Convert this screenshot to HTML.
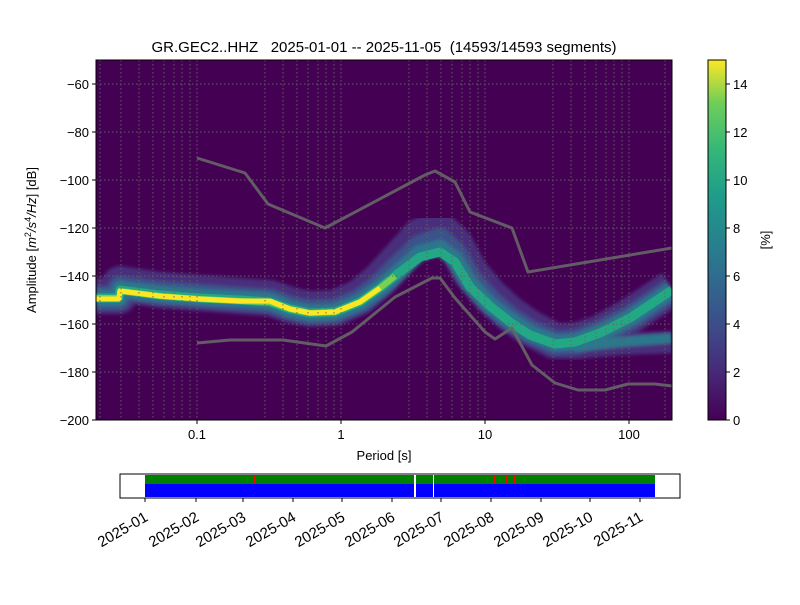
<!DOCTYPE html>
<html><head><meta charset="utf-8"><style>
body{margin:0;background:#fff}
svg text{font-family:"Liberation Sans","DejaVu Sans",sans-serif;fill:#000}
</style></head><body>
<svg width="800" height="600" viewBox="0 0 800 600" xmlns="http://www.w3.org/2000/svg">
<defs>
<clipPath id="pc"><rect x="96" y="60" width="576" height="360"/></clipPath>
<linearGradient id="vir" x1="0" y1="1" x2="0" y2="0">
<stop offset="0" stop-color="#440154"/><stop offset="0.13" stop-color="#482878"/><stop offset="0.25" stop-color="#3e4989"/><stop offset="0.38" stop-color="#31688e"/><stop offset="0.5" stop-color="#26828e"/><stop offset="0.63" stop-color="#1f9e89"/><stop offset="0.75" stop-color="#35b779"/><stop offset="0.88" stop-color="#6ece58"/><stop offset="1" stop-color="#fde725"/>
</linearGradient>
<filter id="bl"><feGaussianBlur stdDeviation="1.5"/></filter>
</defs>
<text x="384" y="52" font-size="15" text-anchor="middle" xml:space="preserve">GR.GEC2..HHZ   2025-01-01 -- 2025-11-05  (14593/14593 segments)</text>
<rect x="96" y="60" width="576" height="360" fill="#440154"/>
<g clip-path="url(#pc)" fill="none" stroke-linejoin="round" stroke-linecap="butt">
<g filter="url(#bl)">
<polyline stroke="#482f7c" stroke-width="36" points="96,296 119,296 120,284 160,290 200,293 240,296 270,298 290,305 310,309 335,308 360,297 380,280 400,258 420,236 440,230 455,244 470,272 490,296 510,314 530,328 555,341 575,341 600,333 630,316 672,288"/>
<polyline stroke="#482f7c" stroke-width="22" points="575,348 620,344 672,342"/>
<polyline stroke="#3b528b" stroke-width="24" points="96,298 119,298 120,288 160,293 200,296 240,299 270,301 290,308 310,312 335,311 360,301 380,286 400,266 420,247 440,240 455,254 470,280 490,302 510,319 530,332 555,343 575,342 600,333 630,318 672,290"/>
<polyline stroke="#2a788e" stroke-width="16" points="96,298 119,298 120,289 160,294 200,297 240,299 270,301 290,309 310,313 335,312 360,302 380,288 400,271 420,253 440,248 455,259 470,284 490,305 510,320 530,333 555,343 575,342 600,333 630,318 672,290"/>
<polyline stroke="#2a788e" stroke-width="10" points="575,347 620,342 672,338"/>
</g>
<polyline stroke="#22a884" stroke-width="9" points="96,298 119,298 120,290 160,295 200,298 240,300 270,302 290,309 310,313 335,312 360,302 380,288 400,272 420,257 440,252 455,262 470,287 490,306 510,322 530,335 555,344 575,342 600,333 630,318 672,290"/>
<polyline stroke="#7ad151" stroke-width="6" points="96,298 119,298 120,291 160,296 200,299 240,301 270,302 290,309 310,313 335,312 360,302 380,288 395,276"/>
<polyline stroke="#fde725" stroke-width="5" points="96,299 119,299 120,291 160,296 200,299 240,301 270,301 290,309 310,313 335,312 360,302 380,288"/>
<polyline stroke="#666" stroke-opacity="0.9" stroke-width="3" points="197,158 245,173 268,204 325,228 425,175 435,171 455,182 470,212 512,228 528,272 672,248"/>
<polyline stroke="#666" stroke-opacity="0.9" stroke-width="3" points="197,343 230,340 283,340 326,346 352,332 395,297 432,278 440,278 455,298 485,332 495,339 512,328 532,365 555,383 578,390 605,390 628,384 655,384 672,386"/>
</g>
<g stroke="#666" stroke-width="1" stroke-dasharray="1.5,2.5" opacity="0.9">
<line x1="96" x2="672" y1="84" y2="84"/><line x1="96" x2="672" y1="132" y2="132"/><line x1="96" x2="672" y1="180" y2="180"/><line x1="96" x2="672" y1="228" y2="228"/><line x1="96" x2="672" y1="276" y2="276"/><line x1="96" x2="672" y1="324" y2="324"/><line x1="96" x2="672" y1="372" y2="372"/>
<g id="dec">
<line x1="121" x2="121" y1="60" y2="420"/><line x1="139" x2="139" y1="60" y2="420"/><line x1="153" x2="153" y1="60" y2="420"/><line x1="164" x2="164" y1="60" y2="420"/><line x1="174" x2="174" y1="60" y2="420"/><line x1="182" x2="182" y1="60" y2="420"/><line x1="190" x2="190" y1="60" y2="420"/><line x1="197" x2="197" y1="60" y2="420"/>
</g>
<use href="#dec" transform="translate(144,0)"/><use href="#dec" transform="translate(288,0)"/><use href="#dec" transform="translate(432,0)"/>
<line x1="100" x2="100" y1="60" y2="420"/><line x1="665" x2="665" y1="60" y2="420"/>
</g>
<rect x="96" y="60" width="576" height="360" fill="none" stroke="#000" stroke-width="1"/>
<g stroke="#000">
<line x1="92" x2="96" y1="84" y2="84"/><line x1="92" x2="96" y1="132" y2="132"/><line x1="92" x2="96" y1="180" y2="180"/><line x1="92" x2="96" y1="228" y2="228"/><line x1="92" x2="96" y1="276" y2="276"/><line x1="92" x2="96" y1="324" y2="324"/><line x1="92" x2="96" y1="372" y2="372"/><line x1="92" x2="96" y1="420" y2="420"/>
<line x1="197" x2="197" y1="420" y2="424"/><line x1="341" x2="341" y1="420" y2="424"/><line x1="485" x2="485" y1="420" y2="424"/><line x1="629" x2="629" y1="420" y2="424"/>
</g>
<g font-size="13" text-anchor="end">
<text x="89" y="89">−60</text><text x="89" y="137">−80</text><text x="89" y="185">−100</text><text x="89" y="233">−120</text><text x="89" y="281">−140</text><text x="89" y="329">−160</text><text x="89" y="377">−180</text><text x="89" y="425">−200</text>
</g>
<g font-size="13" text-anchor="middle">
<text x="197" y="439">0.1</text><text x="341" y="439">1</text><text x="485" y="439">10</text><text x="629" y="439">100</text>
<text x="384" y="460">Period [s]</text>
</g>
<text font-size="13" text-anchor="middle" transform="translate(36,240) rotate(-90)">Amplitude [<tspan font-style="italic">m</tspan><tspan font-size="9" dy="-5">2</tspan><tspan dy="5" font-style="italic">/s</tspan><tspan font-size="9" dy="-5">4</tspan><tspan dy="5" font-style="italic">/Hz</tspan>] [dB]</text>
<rect x="708" y="60" width="18" height="360" fill="url(#vir)" stroke="#000" stroke-width="1"/>
<g stroke="#000"><line x1="726" x2="730" y1="420" y2="420"/><line x1="726" x2="730" y1="372" y2="372"/><line x1="726" x2="730" y1="324" y2="324"/><line x1="726" x2="730" y1="276" y2="276"/><line x1="726" x2="730" y1="228" y2="228"/><line x1="726" x2="730" y1="180" y2="180"/><line x1="726" x2="730" y1="132" y2="132"/><line x1="726" x2="730" y1="84" y2="84"/></g>
<g font-size="13"><text x="733" y="425">0</text><text x="733" y="377">2</text><text x="733" y="329">4</text><text x="733" y="281">6</text><text x="733" y="233">8</text><text x="733" y="185">10</text><text x="733" y="137">12</text><text x="733" y="89">14</text></g>
<text font-size="13" text-anchor="middle" transform="translate(770,240) rotate(-90)">[%]</text>
<rect x="120" y="474" width="560" height="24" fill="#fff" stroke="#000"/>
<rect x="145" y="475" width="510" height="9" fill="#008000"/>
<rect x="145" y="484" width="510" height="13" fill="#0000ff"/>
<g fill="#f00"><rect x="254" y="475" width="1" height="9"/><rect x="257" y="475" width="1" height="9"/><rect x="481" y="475" width="1" height="9"/><rect x="494" y="475" width="2" height="9"/><rect x="501" y="475" width="1" height="9"/><rect x="506" y="475" width="1" height="9"/><rect x="513" y="475" width="2" height="9"/></g>
<rect x="414" y="475" width="2" height="22" fill="#fff"/><rect x="433" y="475" width="1" height="22" fill="#fff"/>
<g stroke="#000"><line x1="145" x2="145" y1="498" y2="502"/><line x1="196" x2="196" y1="498" y2="502"/><line x1="243" x2="243" y1="498" y2="502"/><line x1="293" x2="293" y1="498" y2="502"/><line x1="342" x2="342" y1="498" y2="502"/><line x1="392" x2="392" y1="498" y2="502"/><line x1="441" x2="441" y1="498" y2="502"/><line x1="491" x2="491" y1="498" y2="502"/><line x1="541" x2="541" y1="498" y2="502"/><line x1="590" x2="590" y1="498" y2="502"/><line x1="640" x2="640" y1="498" y2="502"/></g>
<g font-size="15" text-anchor="end">
<text transform="translate(149,520) rotate(-30)">2025-01</text><text transform="translate(200,520) rotate(-30)">2025-02</text><text transform="translate(247,520) rotate(-30)">2025-03</text><text transform="translate(297,520) rotate(-30)">2025-04</text><text transform="translate(346,520) rotate(-30)">2025-05</text><text transform="translate(396,520) rotate(-30)">2025-06</text><text transform="translate(445,520) rotate(-30)">2025-07</text><text transform="translate(495,520) rotate(-30)">2025-08</text><text transform="translate(545,520) rotate(-30)">2025-09</text><text transform="translate(594,520) rotate(-30)">2025-10</text><text transform="translate(644,520) rotate(-30)">2025-11</text>
</g>
</svg>
</body></html>
